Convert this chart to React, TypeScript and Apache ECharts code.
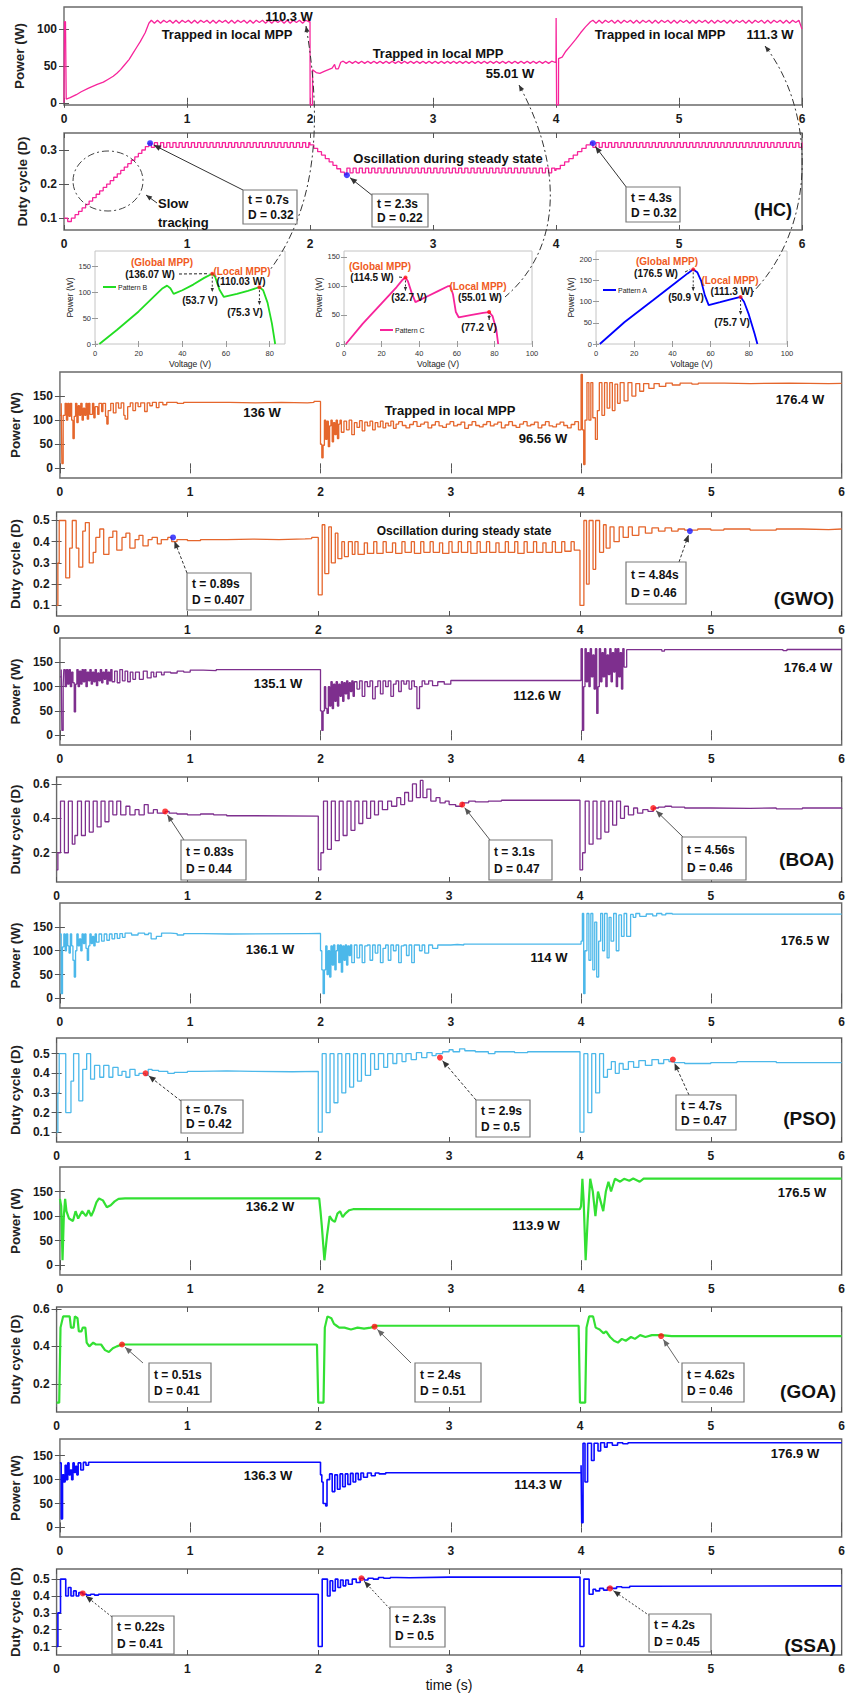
import { useEffect, useRef } from "react";
import * as echarts from "echarts";

type Pt = [number, number];
type Seg = { t0: number; t1: number; v: number[] };
type Part = Pt[] | Seg;

// ---------------- tick labels ----------------
const timeTicks = [0, 1, 2, 3, 4, 5, 6];
const hcPowerTicks = [0, 50, 100];
const powerTicks = [0, 50, 100, 150];
const hcDutyTicks = [0.1, 0.2, 0.3];
const dutyTicks5 = [0.1, 0.2, 0.3, 0.4, 0.5];
const dutyTicks3 = [0.2, 0.4, 0.6];
const voltTicksB = [0, 20, 40, 60, 80];
const voltTicks = [0, 20, 40, 60, 80, 100];
const pvTicks = [0, 50, 100, 150];
const pvTicksA = [0, 50, 100, 150, 200];

// ---------------- HC ----------------
const hcPowerRamp: Pt[] = [[0, 0], [0.004, 110], [0.012, 110], [0.018, 5], [0.05, 7], [0.1, 11], [0.14, 15], [0.2, 20], [0.27, 25], [0.32, 28], [0.36, 32], [0.4, 36], [0.43, 40], [0.46, 45], [0.49, 51], [0.53, 59], [0.56, 67], [0.59, 75], [0.62, 83], [0.66, 95], [0.69, 108]];
const hcPowerSteady1: Seg = { t0: 0.71, t1: 1.99, v: [112, 108, 112, 108, 112, 109, 112, 108, 112, 108, 112, 109, 112, 108, 112, 108, 112, 109, 112, 108, 112, 108, 112, 109, 112, 108, 112, 108, 112, 109, 112, 108, 112, 108, 112, 109, 112, 108, 112, 108, 112, 109, 112, 108, 112, 108, 112, 109, 112, 108, 112, 110] };
const hcPowerDrop: Pt[] = [[2.0, 110.3], [2.001, -3], [2.02, -3], [2.021, 45], [2.05, 41], [2.08, 40], [2.12, 43], [2.15, 45], [2.18, 47], [2.2, 52], [2.21, 46], [2.23, 46], [2.25, 55]];
const hcPowerSteady2: Seg = { t0: 2.27, t1: 3.99, v: [56.5, 53.5, 56.5, 53.5, 56.5, 53.5, 56.5, 53.5, 56.5, 53.5, 56.5, 53.5, 56.5, 53.5, 56.5, 53.5, 56.5, 53.5, 56.5, 53.5, 56.5, 53.5, 56.5, 53.5, 56.5, 53.5, 56.5, 53.5, 56.5, 53.5, 56.5, 53.5, 56.5, 53.5, 56.5, 53.5, 56.5, 53.5, 56.5, 53.5, 56.5, 53.5, 56.5, 53.5, 56.5, 53.5, 56.5, 53.5, 56.5, 53.5, 56.5, 53.5, 56.5, 53.5, 56.5, 53.5, 56.5, 53.5, 56.5, 53.5, 56.5, 53.5, 56.5, 53.5, 56.5, 53.5, 56.5, 53.5, 56.5, 55] };
const hcPowerRise: Pt[] = [[4.0, 55], [4.001, 115], [4.005, -3], [4.02, -3], [4.021, 60], [4.05, 62], [4.08, 70], [4.12, 78], [4.16, 86], [4.2, 95], [4.24, 103], [4.28, 110]];
const hcPowerSteady3: Seg = { t0: 4.3, t1: 6.0, v: [112, 108, 112, 108, 112, 109, 112, 108, 112, 108, 112, 109, 112, 108, 112, 108, 112, 109, 112, 108, 112, 108, 112, 109, 112, 108, 112, 108, 112, 109, 112, 108, 112, 108, 112, 109, 112, 108, 112, 108, 112, 109, 112, 108, 112, 108, 112, 109, 112, 108, 112, 108, 112, 109, 112, 108, 112, 108, 112, 109, 112, 108, 112, 108, 112, 109, 112, 100] };

const hcDutyStart: Pt[] = [[0, 0.1], [0.03, 0.09], [0.06, 0.1]];
const hcDutyRamp1: Seg = { t0: 0.09, t1: 0.69, v: [0.11, 0.12, 0.13, 0.14, 0.15, 0.16, 0.17, 0.18, 0.19, 0.2, 0.21, 0.22, 0.23, 0.24, 0.25, 0.26, 0.27, 0.28, 0.29, 0.3, 0.31, 0.32] };
const hcDutySteady1: Seg = { t0: 0.71, t1: 1.99, v: [0.308, 0.322, 0.308, 0.322, 0.308, 0.322, 0.308, 0.322, 0.308, 0.322, 0.308, 0.322, 0.308, 0.322, 0.308, 0.322, 0.308, 0.322, 0.308, 0.322, 0.308, 0.322, 0.308, 0.322, 0.308, 0.322, 0.308, 0.322, 0.308, 0.322, 0.308, 0.322, 0.308, 0.322, 0.308, 0.322, 0.308, 0.322, 0.308, 0.322, 0.308, 0.322, 0.308, 0.322, 0.308, 0.322, 0.308, 0.322, 0.308, 0.322, 0.308, 0.322] };
const hcDutyRamp2: Seg = { t0: 2.0, t1: 2.28, v: [0.315, 0.305, 0.295, 0.285, 0.275, 0.265, 0.255, 0.245, 0.235, 0.228] };
const hcDutySteady2: Seg = { t0: 2.3, t1: 3.99, v: [0.247, 0.233, 0.247, 0.233, 0.247, 0.233, 0.247, 0.233, 0.247, 0.233, 0.247, 0.233, 0.247, 0.233, 0.247, 0.233, 0.247, 0.233, 0.247, 0.233, 0.247, 0.233, 0.247, 0.233, 0.247, 0.233, 0.247, 0.233, 0.247, 0.233, 0.247, 0.233, 0.247, 0.233, 0.247, 0.233, 0.247, 0.233, 0.247, 0.233, 0.247, 0.233, 0.247, 0.233, 0.247, 0.233, 0.247, 0.233, 0.247, 0.233, 0.247, 0.233, 0.247, 0.233, 0.247, 0.233, 0.247, 0.233, 0.247, 0.233, 0.247, 0.233, 0.247, 0.233, 0.247, 0.233, 0.247, 0.24] };
const hcDutyRamp3: Seg = { t0: 4.0, t1: 4.28, v: [0.245, 0.255, 0.265, 0.275, 0.285, 0.295, 0.305, 0.315, 0.322] };
const hcDutySteady3: Seg = { t0: 4.3, t1: 6.0, v: [0.308, 0.322, 0.308, 0.322, 0.308, 0.322, 0.308, 0.322, 0.308, 0.322, 0.308, 0.322, 0.308, 0.322, 0.308, 0.322, 0.308, 0.322, 0.308, 0.322, 0.308, 0.322, 0.308, 0.322, 0.308, 0.322, 0.308, 0.322, 0.308, 0.322, 0.308, 0.322, 0.308, 0.322, 0.308, 0.322, 0.308, 0.322, 0.308, 0.322, 0.308, 0.322, 0.308, 0.322, 0.308, 0.322, 0.308, 0.322, 0.308, 0.322, 0.308, 0.322, 0.308, 0.322, 0.308, 0.322, 0.308, 0.322, 0.308, 0.322, 0.308, 0.322, 0.308, 0.322, 0.308, 0.322, 0.308, 0.322] };
const hcDots: Pt[] = [[0.7, 0.32], [2.3, 0.226], [4.3, 0.32]];

// ---------------- GWO ----------------
const gwoPower1: Pt[] = [[0, 110], [0.01, 135], [0.015, 10], [0.025, 110], [0.04, 135], [0.05, 100], [0.06, 135], [0.07, 108], [0.08, 135], [0.09, 100], [0.1, 62], [0.11, 108], [0.12, 135], [0.13, 95], [0.14, 130], [0.15, 110], [0.16, 135], [0.17, 100], [0.18, 125], [0.19, 110], [0.2, 135], [0.21, 102], [0.22, 135], [0.23, 112], [0.25, 135], [0.26, 105], [0.27, 128], [0.29, 112], [0.3, 135], [0.32, 118], [0.33, 135], [0.35, 108], [0.36, 92], [0.37, 120], [0.39, 135], [0.41, 115], [0.43, 136], [0.45, 125], [0.47, 136], [0.49, 110], [0.5, 102], [0.52, 128], [0.54, 136], [0.56, 120], [0.58, 136], [0.6, 128], [0.62, 136], [0.65, 118], [0.67, 136], [0.69, 130], [0.71, 137], [0.74, 126], [0.76, 137], [0.79, 132], [0.82, 137], [0.9, 135], [0.95, 137], [1.1, 137], [1.3, 136], [1.5, 137], [1.7, 136], [1.9, 137], [1.95, 139]];
const gwoPower2: Pt[] = [[2.0, 50], [2.01, 22], [2.02, 48], [2.03, 100], [2.04, 60], [2.05, 98], [2.06, 45], [2.07, 88], [2.08, 100], [2.09, 55], [2.1, 95], [2.11, 70], [2.12, 100], [2.13, 62], [2.14, 92], [2.15, 100], [2.16, 75], [2.18, 98], [2.2, 80], [2.22, 100], [2.24, 70], [2.26, 95], [2.28, 85], [2.3, 99], [2.32, 78], [2.34, 96], [2.36, 88], [2.38, 98], [2.4, 80], [2.42, 95], [2.44, 86], [2.46, 98], [2.48, 84], [2.5, 94], [2.52, 88], [2.54, 98], [2.56, 83], [2.58, 92]];
const gwoPower3: Seg = { t0: 2.6, t1: 3.98, v: [97, 89, 84, 91, 97, 87, 92, 96, 84, 90, 97, 88, 85, 92, 97, 88, 91, 96, 83, 90, 97, 89, 86, 91, 97, 88, 92, 96, 84, 90, 97, 89, 85, 92, 97, 88, 91, 96, 84, 90, 97, 88, 86, 92, 96, 89, 84, 91, 97, 80] };
const gwoPower4: Pt[] = [[4.0, 195], [4.01, 80], [4.02, 8], [4.03, 100], [4.045, 178], [4.06, 100], [4.075, 178], [4.09, 105], [4.11, 60], [4.125, 120], [4.14, 178], [4.16, 110], [4.18, 178], [4.2, 125], [4.22, 178], [4.24, 120], [4.26, 175], [4.28, 135], [4.3, 178], [4.33, 140], [4.36, 178], [4.39, 150], [4.42, 176], [4.45, 160], [4.48, 176], [4.52, 166], [4.56, 176], [4.6, 170], [4.65, 177], [4.7, 173], [4.76, 177], [4.85, 175], [4.9, 177], [5.1, 176], [5.3, 177], [5.6, 176], [5.9, 176.4], [6, 176.4]];

const gwoDuty1: Pt[] = [[0, 0.1], [0.01, 0.3], [0.02, 0.5], [0.07, 0.23], [0.1, 0.37], [0.12, 0.5], [0.15, 0.37], [0.17, 0.28], [0.2, 0.45], [0.22, 0.49], [0.25, 0.3], [0.28, 0.35], [0.3, 0.42], [0.33, 0.46], [0.36, 0.34], [0.4, 0.42], [0.43, 0.45], [0.46, 0.36], [0.5, 0.42], [0.53, 0.44], [0.56, 0.37], [0.6, 0.41], [0.63, 0.43], [0.66, 0.38], [0.7, 0.41], [0.73, 0.42], [0.77, 0.39], [0.8, 0.41], [0.85, 0.42], [0.88, 0.4], [0.92, 0.41], [1.0, 0.405], [1.1, 0.41], [1.3, 0.412], [1.5, 0.41], [1.7, 0.413], [1.9, 0.415], [1.95, 0.42]];
const gwoDuty2: Pt[] = [[2.0, 0.15], [2.03, 0.48], [2.05, 0.25], [2.08, 0.47], [2.1, 0.3], [2.13, 0.44], [2.15, 0.32], [2.18, 0.4], [2.2, 0.33], [2.23, 0.4], [2.26, 0.34]];
const gwoDuty3: Seg = { t0: 2.28, t1: 3.98, v: [0.4, 0.34, 0.34, 0.395, 0.345, 0.345, 0.4, 0.345, 0.345, 0.4, 0.35, 0.35, 0.395, 0.345, 0.345, 0.4, 0.35, 0.35, 0.4, 0.345, 0.345, 0.4, 0.35, 0.35, 0.4, 0.35, 0.35, 0.395, 0.345, 0.345, 0.4, 0.35, 0.35, 0.4, 0.35, 0.35, 0.4, 0.345, 0.345, 0.4, 0.35, 0.35, 0.4, 0.35, 0.35, 0.395, 0.35, 0.35, 0.4, 0.35, 0.35, 0.4, 0.345, 0.345, 0.4, 0.35, 0.35, 0.4, 0.35, 0.35, 0.395, 0.35, 0.35, 0.4, 0.35, 0.35, 0.4, 0.355, 0.355, 0.4, 0.36, 0.36] };
const gwoDuty4: Pt[] = [[4.0, 0.1], [4.03, 0.5], [4.05, 0.2], [4.07, 0.5], [4.1, 0.27], [4.12, 0.5], [4.15, 0.35], [4.18, 0.48], [4.2, 0.37], [4.23, 0.47], [4.26, 0.4], [4.3, 0.47], [4.33, 0.42], [4.37, 0.47], [4.4, 0.43], [4.45, 0.47], [4.5, 0.44], [4.55, 0.465], [4.6, 0.45], [4.65, 0.465], [4.7, 0.45], [4.75, 0.46], [4.8, 0.455], [4.9, 0.46], [5.0, 0.455], [5.1, 0.46], [5.3, 0.455], [5.5, 0.46], [5.7, 0.457], [5.9, 0.46], [6, 0.46]];
const gwoDots: Pt[] = [[0.89, 0.42], [4.84, 0.45]];

// ---------------- BOA ----------------
const boaPower: Pt[] = [[0, 120], [0.01, 135], [0.015, 10], [0.025, 105], [0.03, 135], [0.04, 100], [0.05, 135], [0.06, 105], [0.07, 135], [0.08, 100], [0.09, 130], [0.1, 108], [0.11, 48], [0.12, 105], [0.13, 135], [0.14, 100], [0.15, 132], [0.16, 105], [0.17, 135], [0.18, 110], [0.19, 135], [0.2, 100], [0.21, 130], [0.22, 112], [0.23, 135], [0.24, 105], [0.25, 130], [0.26, 110], [0.27, 135], [0.28, 102], [0.29, 128], [0.3, 112], [0.31, 135], [0.32, 108], [0.33, 130], [0.34, 115], [0.35, 135], [0.36, 105], [0.37, 130], [0.38, 112], [0.39, 135], [0.4, 110], [0.42, 132], [0.44, 108], [0.46, 135], [0.48, 112], [0.5, 132], [0.52, 110], [0.54, 130], [0.56, 115], [0.58, 130], [0.61, 115], [0.64, 132], [0.67, 118], [0.7, 130], [0.72, 120], [0.74, 130], [0.78, 124], [0.8, 130], [0.85, 128], [0.9, 132], [0.95, 130], [1.0, 134], [1.1, 133], [1.2, 135], [1.8, 135.1],
  [2.0, 50], [2.01, 10], [2.02, 50], [2.03, 100], [2.04, 55], [2.05, 45], [2.06, 100], [2.07, 60], [2.08, 110], [2.09, 55], [2.1, 105], [2.11, 70], [2.12, 110], [2.13, 60], [2.14, 105], [2.15, 80], [2.16, 110], [2.17, 70], [2.18, 108], [2.19, 85], [2.2, 112], [2.21, 75], [2.22, 108], [2.23, 90], [2.24, 112], [2.25, 80], [2.26, 110], [2.28, 95], [2.3, 112], [2.32, 80], [2.34, 110], [2.36, 100], [2.38, 112], [2.4, 75], [2.42, 100], [2.44, 112], [2.46, 85], [2.48, 112], [2.5, 100], [2.52, 112], [2.54, 80], [2.56, 105], [2.58, 112], [2.6, 90], [2.62, 112], [2.64, 105], [2.66, 112], [2.68, 95], [2.7, 112], [2.72, 100], [2.74, 55], [2.76, 100], [2.78, 112], [2.8, 105], [2.83, 112], [2.86, 102], [2.9, 110], [2.95, 105], [3.0, 112.6], [3.99, 112.6],
  [4.0, 178], [4.01, 10], [4.02, 100], [4.03, 178], [4.04, 110], [4.05, 170], [4.06, 100], [4.07, 178], [4.08, 120], [4.09, 165], [4.1, 95], [4.11, 178], [4.12, 45], [4.13, 100], [4.14, 178], [4.15, 110], [4.16, 170], [4.17, 120], [4.18, 178], [4.19, 100], [4.2, 165], [4.21, 125], [4.22, 178], [4.23, 110], [4.24, 170], [4.25, 130], [4.26, 178], [4.27, 100], [4.28, 178], [4.29, 120], [4.3, 170], [4.31, 95], [4.32, 178], [4.33, 140], [4.35, 176], [4.6, 176], [4.62, 173], [4.64, 176], [5.5, 176], [5.55, 174], [5.58, 176.4], [6, 176.4]];
const boaDuty: Pt[] = [[0, 0.1], [0.01, 0.2], [0.03, 0.5], [0.06, 0.2], [0.09, 0.5], [0.12, 0.25], [0.14, 0.3], [0.16, 0.5], [0.19, 0.3], [0.22, 0.5], [0.25, 0.32], [0.28, 0.5], [0.31, 0.35], [0.34, 0.5], [0.37, 0.38], [0.4, 0.5], [0.43, 0.42], [0.46, 0.5], [0.49, 0.42], [0.53, 0.47], [0.56, 0.42], [0.6, 0.45], [0.63, 0.42], [0.67, 0.48], [0.7, 0.43], [0.74, 0.45], [0.77, 0.43], [0.83, 0.44], [0.86, 0.43], [0.92, 0.425], [1.0, 0.42], [1.1, 0.425], [1.2, 0.42], [1.3, 0.415], [1.5, 0.413],
  [2.0, 0.1], [2.02, 0.2], [2.04, 0.5], [2.07, 0.22], [2.1, 0.5], [2.13, 0.27], [2.16, 0.5], [2.19, 0.3], [2.22, 0.5], [2.25, 0.33], [2.28, 0.5], [2.31, 0.37], [2.34, 0.5], [2.37, 0.4], [2.4, 0.5], [2.43, 0.42], [2.46, 0.5], [2.49, 0.45], [2.53, 0.5], [2.56, 0.47], [2.6, 0.52], [2.63, 0.48], [2.66, 0.55], [2.69, 0.5], [2.72, 0.6], [2.75, 0.52], [2.78, 0.62], [2.8, 0.52], [2.83, 0.57], [2.86, 0.5], [2.9, 0.52], [2.93, 0.49], [2.97, 0.5], [3.0, 0.48], [3.05, 0.47], [3.1, 0.49], [3.15, 0.5], [3.2, 0.495], [3.3, 0.5], [3.4, 0.505],
  [4.0, 0.1], [4.02, 0.2], [4.04, 0.5], [4.07, 0.25], [4.1, 0.5], [4.13, 0.28], [4.16, 0.5], [4.19, 0.32], [4.22, 0.5], [4.25, 0.36], [4.28, 0.5], [4.31, 0.4], [4.34, 0.47], [4.37, 0.42], [4.41, 0.46], [4.44, 0.43], [4.48, 0.45], [4.52, 0.44], [4.56, 0.46], [4.6, 0.465], [4.65, 0.47], [4.7, 0.465], [4.8, 0.46], [5.0, 0.458], [5.3, 0.46], [5.5, 0.455], [5.7, 0.46], [6, 0.455]];
const boaDots: Pt[] = [[0.83, 0.44], [3.1, 0.48], [4.56, 0.46]];

// ---------------- PSO ----------------
const psoPower: Pt[] = [[0, 135], [0.01, 10], [0.02, 108], [0.03, 135], [0.04, 100], [0.05, 135], [0.06, 110], [0.07, 95], [0.08, 135], [0.09, 110], [0.1, 80], [0.11, 45], [0.12, 100], [0.13, 135], [0.14, 110], [0.15, 125], [0.16, 100], [0.17, 135], [0.18, 115], [0.19, 135], [0.2, 105], [0.21, 80], [0.22, 110], [0.23, 135], [0.24, 115], [0.25, 130], [0.26, 110], [0.27, 135], [0.28, 118], [0.3, 135], [0.32, 120], [0.34, 135], [0.36, 122], [0.38, 135], [0.4, 125], [0.42, 136], [0.44, 126], [0.46, 136], [0.48, 128], [0.5, 137], [0.55, 133], [0.6, 137], [0.65, 134], [0.68, 137], [0.7, 125], [0.74, 130], [0.78, 137], [0.85, 136], [0.9, 133], [0.95, 136], [1.1, 135], [1.3, 136], [1.9, 136.1],
  [2.0, 100], [2.01, 60], [2.02, 10], [2.03, 60], [2.04, 110], [2.05, 50], [2.06, 100], [2.07, 45], [2.08, 110], [2.09, 70], [2.1, 112], [2.11, 60], [2.12, 100], [2.13, 112], [2.14, 75], [2.15, 112], [2.16, 55], [2.17, 110], [2.18, 80], [2.19, 112], [2.2, 70], [2.21, 110], [2.22, 90], [2.23, 112], [2.24, 75], [2.26, 112], [2.28, 85], [2.3, 112], [2.32, 75], [2.34, 110], [2.36, 112], [2.38, 80], [2.4, 112], [2.42, 95], [2.44, 112], [2.46, 75], [2.48, 105], [2.5, 112], [2.52, 80], [2.54, 112], [2.56, 100], [2.58, 112], [2.6, 75], [2.62, 110], [2.64, 112], [2.66, 90], [2.68, 112], [2.7, 75], [2.72, 112], [2.76, 100], [2.78, 112], [2.8, 95], [2.83, 112], [2.86, 105], [2.9, 112], [3.0, 113], [3.05, 112], [3.1, 114], [3.9, 114],
  [4.0, 120], [4.01, 178], [4.02, 10], [4.03, 100], [4.045, 178], [4.06, 80], [4.075, 178], [4.09, 60], [4.105, 160], [4.12, 45], [4.135, 120], [4.15, 178], [4.165, 100], [4.18, 178], [4.2, 85], [4.215, 170], [4.23, 120], [4.25, 178], [4.27, 100], [4.29, 175], [4.31, 130], [4.33, 178], [4.35, 130], [4.38, 176], [4.4, 170], [4.42, 178], [4.45, 172], [4.5, 177], [4.55, 173], [4.58, 178], [4.62, 175], [4.65, 178], [4.7, 176.5], [6, 176.5]];
const psoDuty: Pt[] = [[0, 0.1], [0.01, 0.3], [0.02, 0.5], [0.07, 0.2], [0.11, 0.36], [0.13, 0.5], [0.17, 0.26], [0.2, 0.42], [0.23, 0.5], [0.26, 0.37], [0.29, 0.44], [0.33, 0.38], [0.36, 0.44], [0.4, 0.38], [0.43, 0.43], [0.47, 0.39], [0.5, 0.41], [0.53, 0.38], [0.56, 0.42], [0.6, 0.39], [0.63, 0.4], [0.68, 0.39], [0.7, 0.42], [0.73, 0.415], [0.78, 0.41], [0.85, 0.4], [0.9, 0.405], [1.0, 0.41], [1.1, 0.412], [1.3, 0.41], [1.5, 0.408], [1.8, 0.41],
  [2.0, 0.1], [2.03, 0.5], [2.06, 0.2], [2.09, 0.5], [2.12, 0.25], [2.15, 0.5], [2.18, 0.3], [2.21, 0.5], [2.24, 0.33], [2.27, 0.5], [2.3, 0.36], [2.33, 0.5], [2.36, 0.39], [2.4, 0.5], [2.43, 0.42], [2.46, 0.5], [2.5, 0.43], [2.53, 0.5], [2.57, 0.45], [2.6, 0.5], [2.64, 0.46], [2.67, 0.5], [2.71, 0.47], [2.75, 0.505], [2.79, 0.48], [2.83, 0.505], [2.87, 0.49], [2.9, 0.5], [2.95, 0.51], [3.0, 0.52], [3.03, 0.51], [3.08, 0.525], [3.12, 0.515], [3.2, 0.51], [3.3, 0.5], [3.35, 0.51], [3.5, 0.505], [3.6, 0.51],
  [4.0, 0.1], [4.03, 0.5], [4.06, 0.2], [4.09, 0.5], [4.12, 0.3], [4.15, 0.5], [4.18, 0.38], [4.21, 0.42], [4.24, 0.46], [4.27, 0.4], [4.3, 0.45], [4.33, 0.42], [4.37, 0.46], [4.41, 0.43], [4.45, 0.465], [4.5, 0.44], [4.55, 0.47], [4.6, 0.45], [4.64, 0.47], [4.68, 0.46], [4.72, 0.455], [4.8, 0.45], [5.0, 0.455], [5.2, 0.46], [5.5, 0.455], [6, 0.455]];
const psoDots: Pt[] = [[0.68, 0.4], [2.93, 0.48], [4.71, 0.47]];

// ---------------- GOA ----------------
const goaPower: Pt[] = [[0, 135], [0.01, 120], [0.02, 10], [0.03, 100], [0.04, 135], [0.05, 110], [0.07, 95], [0.1, 90], [0.12, 110], [0.14, 95], [0.17, 110], [0.2, 100], [0.22, 112], [0.24, 100], [0.26, 112], [0.28, 128], [0.3, 136], [0.33, 132], [0.36, 118], [0.39, 122], [0.42, 130], [0.45, 135], [0.5, 136], [1.0, 136.2], [1.99, 136.2],
  [2.0, 110], [2.01, 80], [2.03, 10], [2.05, 60], [2.07, 100], [2.09, 92], [2.11, 88], [2.13, 105], [2.15, 110], [2.17, 98], [2.19, 105], [2.22, 112], [2.25, 114], [3.0, 113.9], [3.99, 113.9],
  [4.0, 120], [4.01, 176], [4.02, 130], [4.035, 10], [4.05, 90], [4.07, 176], [4.09, 150], [4.11, 100], [4.13, 150], [4.15, 130], [4.17, 110], [4.19, 150], [4.21, 170], [4.23, 150], [4.26, 176], [4.3, 170], [4.33, 176], [4.37, 172], [4.4, 176.5], [4.45, 170], [4.48, 176.5], [6, 176.5]];
const goaDuty: Pt[] = [[0, 0.1], [0.02, 0.1], [0.03, 0.5], [0.05, 0.56], [0.1, 0.56], [0.11, 0.5], [0.13, 0.5], [0.14, 0.56], [0.16, 0.55], [0.17, 0.48], [0.19, 0.48], [0.2, 0.5], [0.22, 0.5], [0.23, 0.42], [0.25, 0.4], [0.28, 0.42], [0.3, 0.41], [0.34, 0.41], [0.37, 0.38], [0.4, 0.37], [0.43, 0.39], [0.46, 0.4], [0.5, 0.41], [0.55, 0.41], [1.0, 0.41], [1.99, 0.41],
  [2.0, 0.1], [2.04, 0.1], [2.05, 0.5], [2.07, 0.56], [2.1, 0.55], [2.12, 0.52], [2.14, 0.51], [2.16, 0.5], [2.2, 0.5], [2.25, 0.49], [2.3, 0.5], [2.35, 0.495], [2.4, 0.5], [2.45, 0.51], [3.0, 0.51], [3.99, 0.51],
  [4.0, 0.1], [4.04, 0.1], [4.05, 0.5], [4.07, 0.56], [4.1, 0.56], [4.12, 0.5], [4.15, 0.49], [4.18, 0.47], [4.2, 0.48], [4.23, 0.45], [4.26, 0.43], [4.29, 0.42], [4.32, 0.44], [4.35, 0.43], [4.39, 0.45], [4.42, 0.44], [4.46, 0.46], [4.5, 0.45], [4.55, 0.46], [4.62, 0.46], [4.7, 0.455], [6, 0.455]];
const goaDots: Pt[] = [[0.5, 0.41], [2.43, 0.505], [4.62, 0.455]];

// ---------------- SSA ----------------
const ssaPower: Pt[] = [[0, 135], [0.01, 18], [0.02, 110], [0.03, 95], [0.04, 130], [0.05, 100], [0.06, 135], [0.07, 110], [0.08, 120], [0.09, 100], [0.1, 135], [0.11, 115], [0.12, 128], [0.13, 110], [0.14, 135], [0.16, 120], [0.18, 136], [0.2, 130], [0.22, 136.3], [1.99, 136.3],
  [2.0, 110], [2.01, 95], [2.02, 50], [2.04, 45], [2.05, 100], [2.07, 112], [2.09, 75], [2.11, 110], [2.13, 80], [2.15, 112], [2.17, 85], [2.19, 112], [2.21, 90], [2.23, 113], [2.25, 95], [2.27, 113], [2.29, 100], [2.31, 114], [2.33, 105], [2.36, 114], [2.39, 108], [2.42, 114], [2.45, 112], [2.5, 114.3], [3.99, 114.3],
  [4.0, 130], [4.005, 10], [4.015, 176], [4.03, 95], [4.05, 176], [4.08, 140], [4.1, 176], [4.13, 160], [4.15, 177], [4.18, 168], [4.2, 177], [4.24, 172], [4.28, 177], [4.32, 175], [4.36, 177], [6, 176.9]];
const ssaDuty: Pt[] = [[0, 0.1], [0.01, 0.3], [0.03, 0.5], [0.07, 0.4], [0.09, 0.45], [0.11, 0.4], [0.13, 0.43], [0.15, 0.4], [0.17, 0.42], [0.2, 0.41], [0.23, 0.405], [0.26, 0.41], [0.29, 0.405], [0.32, 0.41],
  [2.0, 0.1], [2.03, 0.5], [2.07, 0.4], [2.09, 0.49], [2.11, 0.43], [2.13, 0.5], [2.15, 0.45], [2.17, 0.495], [2.19, 0.46], [2.21, 0.495], [2.23, 0.47], [2.26, 0.5], [2.29, 0.48], [2.32, 0.505], [2.35, 0.495], [2.38, 0.505], [2.42, 0.5], [2.46, 0.51], [2.5, 0.505], [2.55, 0.51], [2.6, 0.508], [2.7, 0.512], [3.0, 0.512],
  [4.0, 0.1], [4.03, 0.5], [4.07, 0.41], [4.1, 0.44], [4.12, 0.43], [4.15, 0.445], [4.18, 0.435], [4.21, 0.45], [4.24, 0.445], [4.28, 0.455], [4.32, 0.45], [4.38, 0.458], [4.5, 0.46], [6, 0.46]];
const ssaDots: Pt[] = [[0.2, 0.415], [2.33, 0.505], [4.23, 0.445]];

// ---------------- PV curves (insets) ----------------
const patternB: Pt[] = [[2, 0], [10, 27], [20, 63], [28, 96], [31, 108], [33, 113], [34.5, 108], [36, 97], [40, 104], [45, 115], [50, 128], [53.7, 136.07], [55, 130], [57, 105], [59, 91], [65, 97], [70, 103], [75.3, 110.03], [77, 104], [79, 80], [81, 40], [82.5, 0]];
const patternC: Pt[] = [[1, 0], [10, 35], [20, 70], [28, 98], [31, 110], [32.7, 114.5], [34, 108], [36, 88], [38, 72], [45, 83], [50, 91], [55, 99], [56.5, 100], [58, 85], [59.5, 55], [61, 46], [68, 50], [74, 53.5], [77.2, 55.01], [79, 48], [81, 25], [82, 0]];
const patternA: Pt[] = [[2, 0], [15, 52], [30, 104], [42, 146], [48, 167], [50.9, 176.5], [53, 170], [55, 150], [57, 115], [59, 92], [65, 99], [70, 105], [75.7, 111.3], [77.5, 100], [80, 70], [83, 25], [84.5, 0]];
const mppB: Pt[] = [[53.7, 136.07], [75.3, 110.03]];
const mppC: Pt[] = [[32.7, 114.5], [77.2, 55.01]];
const mppA: Pt[] = [[50.9, 176.5], [75.7, 111.3]];

// ---------------- texts ----------------
const boxTexts = {
  hc: [["t = 0.7s", "D = 0.32"], ["t = 2.3s", "D = 0.22"], ["t = 4.3s", "D = 0.32"]],
  gwo: [["t = 0.89s", "D = 0.407"], ["t = 4.84s", "D = 0.46"]],
  boa: [["t = 0.83s", "D = 0.44"], ["t = 3.1s", "D = 0.47"], ["t = 4.56s", "D = 0.46"]],
  pso: [["t = 0.7s", "D = 0.42"], ["t = 2.9s", "D = 0.5"], ["t = 4.7s", "D = 0.47"]],
  goa: [["t = 0.51s", "D = 0.41"], ["t = 2.4s", "D = 0.51"], ["t = 4.62s", "D = 0.46"]],
  ssa: [["t = 0.22s", "D = 0.41"], ["t = 2.3s", "D = 0.5"], ["t = 4.2s", "D = 0.45"]],
};

function expand(parts: Part[]): Pt[] {
  const out: Pt[] = [];
  for (const p of parts) {
    if (Array.isArray(p)) {
      for (const q of p) out.push(q);
    } else {
      const n = p.v.length;
      const dt = n > 1 ? (p.t1 - p.t0) / (n - 1) : 0;
      p.v.forEach((v, i) => out.push([+(p.t0 + i * dt).toFixed(4), v]));
    }
  }
  return out;
}

const F = '"Liberation Sans", Arial, Helvetica, sans-serif';
const COL = { hc: "#f7249b", gwo: "#e5662c", boa: "#7e2f8e", pso: "#4cb8ea", goa: "#33e033", ssa: "#0a0aff", green: "#22dd22" };

export default function App() {
  const ref = useRef<HTMLDivElement | null>(null);
  useEffect(() => {
    if (!ref.current) return;
    const chart = echarts.init(ref.current, null, { renderer: "svg" });

    const L = 50, R = 844;
    const panels: any[] = [
      { key: "hcP", l: 64, r: 802, t: 7, b: 105, y: [-3, 130], yt: hcPowerTicks, name: "Power (W)", gap: 24, data: expand([hcPowerRamp, hcPowerSteady1, hcPowerDrop, hcPowerSteady2, hcPowerRise, hcPowerSteady3]), color: COL.hc, step: false, lw: 1.3 },
      { key: "hcD", l: 64, r: 802, t: 133, b: 230, y: [0.065, 0.35], yt: hcDutyTicks, name: "Duty cycle (D)", gap: 22, data: expand([hcDutyStart, hcDutyRamp1, hcDutySteady1, hcDutyRamp2, hcDutySteady2, hcDutyRamp3, hcDutySteady3]), color: COL.hc, step: "end", lw: 1.3, dots: hcDots, dotColor: "#1a1aff" },
      { key: "gwoP", l: L, r: R, t: 372, b: 478, y: [-20, 200], yt: powerTicks, name: "Power (W)", gap: 26, data: expand([gwoPower1, gwoPower2, gwoPower3, gwoPower4]), color: COL.gwo, step: "end", lw: 1.3 },
      { key: "gwoD", l: L, r: R, t: 512, b: 616, y: [0.05, 0.54], yt: dutyTicks5, name: "Duty cycle (D)", gap: 26, data: expand([gwoDuty1, gwoDuty2, gwoDuty3, gwoDuty4]), color: COL.gwo, step: "end", lw: 1.3, dots: gwoDots, dotColor: "#1a1aff" },
      { key: "boaP", l: L, r: R, t: 638, b: 745, y: [-20, 200], yt: powerTicks, name: "Power (W)", gap: 26, data: boaPower, color: COL.boa, step: "end", lw: 1.3 },
      { key: "boaD", l: L, r: R, t: 777, b: 882, y: [0.03, 0.64], yt: dutyTicks3, name: "Duty cycle (D)", gap: 26, data: boaDuty, color: COL.boa, step: "end", lw: 1.3, dots: boaDots, dotColor: "#ff1010" },
      { key: "psoP", l: L, r: R, t: 903, b: 1008, y: [-20, 200], yt: powerTicks, name: "Power (W)", gap: 26, data: psoPower, color: COL.pso, step: "end", lw: 1.3 },
      { key: "psoD", l: L, r: R, t: 1038, b: 1142, y: [0.05, 0.58], yt: dutyTicks5, name: "Duty cycle (D)", gap: 26, data: psoDuty, color: COL.pso, step: "end", lw: 1.3, dots: psoDots, dotColor: "#ff1010" },
      { key: "goaP", l: L, r: R, t: 1167, b: 1275, y: [-20, 200], yt: powerTicks, name: "Power (W)", gap: 26, data: goaPower, color: COL.goa, step: false, lw: 2.2 },
      { key: "goaD", l: L, r: R, t: 1307, b: 1412, y: [0.05, 0.61], yt: dutyTicks3, name: "Duty cycle (D)", gap: 26, data: goaDuty, color: COL.goa, step: false, lw: 2.2, dots: goaDots, dotColor: "#ff1010" },
      { key: "ssaP", l: L, r: R, t: 1439, b: 1537, y: [-20, 185], yt: powerTicks, name: "Power (W)", gap: 26, data: ssaPower, color: COL.ssa, step: "end", lw: 1.6 },
      { key: "ssaD", l: L, r: R, t: 1569, b: 1655, y: [0.05, 0.56], yt: dutyTicks5, name: "Duty cycle (D)", gap: 26, data: ssaDuty, color: COL.ssa, step: "end", lw: 1.6, dots: ssaDots, dotColor: "#ff1010" },
    ];
    const insets: any[] = [
      { l: 95, r: 285, t: 251, b: 344, x: [0, 87], y: [0, 180], xt: voltTicksB, yt: pvTicks, data: patternB, color: COL.green, mpp: mppB },
      { l: 344, r: 532, t: 251, b: 344, x: [0, 100], y: [0, 160], xt: voltTicks, yt: pvTicks, data: patternC, color: COL.hc, mpp: mppC },
      { l: 596, r: 787, t: 251, b: 344, x: [0, 100], y: [0, 220], xt: voltTicks, yt: pvTicksA, data: patternA, color: "#0000ff", mpp: mppA },
    ];

    const grid: any[] = [], xAxis: any[] = [], yAxis: any[] = [], series: any[] = [];
    const addGrid = (p: any, xr: number[], yr: number[], xt: number[], yt: number[], o: any) => {
      const gi = grid.length;
      grid.push({ left: p.l, top: p.t, width: p.r - p.l, height: p.b - p.t, show: true, borderColor: o.border, borderWidth: o.bw, backgroundColor: "#fff" });
      const tickLine = { color: o.tickColor, width: 1 };
      const lab = { fontFamily: F, fontSize: o.fs, fontWeight: o.fw, color: o.lc };
      const xi = xAxis.length, yi = yAxis.length;
      xAxis.push({ type: "value", gridIndex: gi, min: xr[0], max: xr[1], position: "bottom", axisLine: { show: false }, splitLine: { show: false },
        axisTick: { show: true, inside: true, length: o.tl, customValues: xt, lineStyle: tickLine },
        axisLabel: { show: true, customValues: xt, margin: o.xm, ...lab, formatter: (v: number) => String(v) },
        name: o.xname || "", nameLocation: "middle", nameGap: o.xnameGap || 0, nameTextStyle: { fontFamily: F, fontSize: o.nfs, color: "#222" } });
      xAxis.push({ type: "value", gridIndex: gi, min: xr[0], max: xr[1], position: "top", axisLine: { show: false }, splitLine: { show: false },
        axisTick: { show: true, inside: true, length: o.tl, customValues: xt, lineStyle: tickLine }, axisLabel: { show: false } });
      yAxis.push({ type: "value", gridIndex: gi, min: yr[0], max: yr[1], position: "left", axisLine: { show: false }, splitLine: { show: false },
        axisTick: { show: true, inside: true, length: o.tl, customValues: yt, lineStyle: tickLine },
        axisLabel: { show: true, customValues: yt, margin: o.ym, ...lab, formatter: (v: number) => String(v) },
        name: o.yname, nameLocation: "middle", nameGap: o.ynameGap, nameRotate: 90,
        nameTextStyle: { fontFamily: F, fontSize: o.nfs, fontWeight: o.nfw, color: "#222" } });
      yAxis.push({ type: "value", gridIndex: gi, min: yr[0], max: yr[1], position: "right", axisLine: { show: false }, splitLine: { show: false },
        axisTick: { show: true, inside: true, length: o.tl, customValues: yt, lineStyle: tickLine }, axisLabel: { show: false } });
      return { xi, yi };
    };

    const mainAx: any[] = [];
    panels.forEach((p) => {
      const ax = addGrid(p, [0, 6], p.y, timeTicks, p.yt, { border: "#6a6a6a", bw: 1.4, tickColor: "#555", fs: 12, fw: "bold", lc: "#1a1a1a", tl: 5, xm: 8, ym: 7, yname: p.name, ynameGap: p.gap, nfs: 13.5, nfw: "bold" });
      mainAx.push(ax);
      series.push({ type: "line", xAxisIndex: ax.xi, yAxisIndex: ax.yi, data: p.data, step: p.step, showSymbol: false, symbol: "none", silent: true, lineStyle: { color: p.color, width: p.lw }, z: 3 });
      if (p.dots) series.push({ type: "scatter", xAxisIndex: ax.xi, yAxisIndex: ax.yi, data: p.dots, symbolSize: 6, itemStyle: { color: p.dotColor }, silent: true, z: 6 });
    });
    const insetAx: any[] = [];
    insets.forEach((p) => {
      const ax = addGrid(p, p.x, p.y, p.xt, p.yt, { border: "#c4c4c4", bw: 1, tickColor: "#999", fs: 7.5, fw: "normal", lc: "#333", tl: 3, xm: 5, ym: 4, yname: "Power (W)", ynameGap: 13, nfs: 8.5, nfw: "normal", xname: "Voltage (V)", xnameGap: 15 });
      insetAx.push(ax);
      series.push({ type: "line", xAxisIndex: ax.xi, yAxisIndex: ax.yi, data: p.data, showSymbol: false, symbol: "none", silent: true, lineStyle: { color: p.color, width: 1.8 }, z: 3 });
      series.push({ type: "scatter", xAxisIndex: ax.xi, yAxisIndex: ax.yi, data: p.mpp, symbolSize: 4, itemStyle: { color: "#ff1010" }, silent: true, z: 6 });
    });

    chart.setOption({ animation: false, backgroundColor: "#ffffff", textStyle: { fontFamily: F }, grid, xAxis, yAxis, series });

    const px = (ax: any, pt: Pt) => chart.convertToPixel({ xAxisIndex: ax.xi, yAxisIndex: ax.yi }, pt) as unknown as number[];
    const g: any[] = [];
    const text = (x: number, y: number, s: string, o: any = {}) =>
      g.push({ type: "text", x, y, z: 120, silent: true, style: { text: s, fill: o.fill || "#111", font: o.font || `bold 13px ${F}`, textAlign: o.align || "center", textVerticalAlign: "middle" } });
    const seg = (x1: number, y1: number, x2: number, y2: number, o: any = {}) =>
      g.push({ type: "line", z: 110, silent: true, shape: { x1, y1, x2, y2 }, style: { stroke: o.color || "#222", lineWidth: o.lw || 1, lineDash: o.dash || null } });
    const head = (x1: number, y1: number, x2: number, y2: number, color: string, size = 7) => {
      const a = Math.atan2(y2 - y1, x2 - x1);
      const w = size * 0.42;
      const bx = x2 - size * Math.cos(a), by = y2 - size * Math.sin(a);
      g.push({ type: "polygon", z: 111, silent: true, shape: { points: [[x2, y2], [bx + w * Math.sin(a), by - w * Math.cos(a)], [bx - w * Math.sin(a), by + w * Math.cos(a)]] }, style: { fill: color } });
    };
    const arrow = (x1: number, y1: number, x2: number, y2: number, o: any = {}) => {
      seg(x1, y1, x2, y2, o);
      head(x1, y1, x2, y2, o.color || "#222", o.size || 7);
    };
    const box = (b: number[], lines: string[], from: number[], ax: any, dot: Pt, o: any = {}) => {
      const tip = px(ax, dot);
      const a = Math.atan2(tip[1] - from[1], tip[0] - from[0]);
      arrow(from[0], from[1], tip[0] - 4 * Math.cos(a), tip[1] - 4 * Math.sin(a), { color: o.color || "#333", dash: o.dash, lw: 1 });
      g.push({ type: "rect", z: 115, silent: true, shape: { x: b[0], y: b[1], width: b[2], height: b[3] }, style: { fill: "#fff", stroke: "#7a7a7a", lineWidth: 1.2 } });
      text(b[0] + 5, b[1] + b[3] * 0.3, lines[0], { align: "left", font: `bold 12px ${F}` });
      text(b[0] + 5, b[1] + b[3] * 0.73, lines[1], { align: "left", font: `bold 12px ${F}` });
    };
    const big = (x: number, y: number, s: string, size = 19) => text(x, y, s, { font: `bold ${size}px ${F}`, align: "right" });

    // ---- HC power annotations
    const [, aHD, , aGD, , aBD, , aPD, , aOD, , aSD] = mainAx;
    text(289, 16, "110.3 W");
    text(227, 34, "Trapped in local MPP");
    text(438, 53, "Trapped in local MPP");
    text(510, 73, "55.01 W");
    text(660, 34, "Trapped in local MPP");
    text(770, 34, "111.3 W");
    // dash-dot links to the PV insets
    const dd = [7, 3, 2, 3];
    const bez = (p0: number[], c1: number[], c2: number[], p3: number[]) => {
      g.push({ type: "bezierCurve", z: 105, silent: true, shape: { x1: p0[0], y1: p0[1], cpx1: c1[0], cpy1: c1[1], cpx2: c2[0], cpy2: c2[1], x2: p3[0], y2: p3[1] }, style: { stroke: "#333", lineWidth: 1, lineDash: dd, fill: "none" } });
      head(c1[0], c1[1], p0[0], p0[1], "#333", 6);
    };
    bez([306, 26], [322, 120], [318, 205], [270, 270]);
    bez([519, 85], [560, 160], [566, 245], [505, 297]);
    bez([765, 46], [815, 110], [818, 225], [753, 292]);

    // ---- HC duty annotations
    text(448, 158, "Oscillation during steady state");
    g.push({ type: "ellipse", z: 105, silent: true, shape: { cx: 108, cy: 181, rx: 35, ry: 30 }, style: { fill: "none", stroke: "#444", lineWidth: 1, lineDash: dd } });
    arrow(157, 203, 146, 195, { color: "#333", size: 6 });
    text(158, 203, "Slow", { align: "left" });
    text(158, 222, "tracking", { align: "left" });
    box([243, 190, 54, 34], boxTexts.hc[0], [243, 190], aHD, hcDots[0]);
    box([372, 194, 56, 33], boxTexts.hc[1], [373, 196], aHD, hcDots[1]);
    box([626, 187, 54, 35], boxTexts.hc[2], [627, 188], aHD, hcDots[2]);
    big(792, 210, "(HC)", 18);

    // ---- insets
    const lab = (x: number, y: number, s: string, orange = false) => text(x, y, s, { font: `bold 10px ${F}`, fill: orange ? "#f05a22" : "#111" });
    const legend = (x: number, y: number, s: string, color: string) => {
      g.push({ type: "line", z: 110, silent: true, shape: { x1: x, y1: y, x2: x + 13, y2: y }, style: { stroke: color, lineWidth: 2 } });
      text(x + 15, y, s, { align: "left", font: `7px ${F}`, fill: "#222" });
    };
    const mppMarks = (ax: any, pts: Pt[], wFrom: number[], vy: number[]) => {
      const gp = px(ax, pts[0]);
      const lp = px(ax, pts[1]);
      seg(wFrom[0], wFrom[1], gp[0] - 3, gp[1], { dash: [3, 2], color: "#222" });
      arrow(gp[0], gp[1] + 3, gp[0], vy[0], { dash: [2, 2], color: "#333", size: 4 });
      arrow(lp[0], lp[1] + 3, lp[0], vy[1], { dash: [2, 2], color: "#333", size: 4 });
    };
    const [i1, i2, i3] = insetAx;
    lab(162, 262, "(Global MPP)", true);
    lab(150, 274, "(136.07 W)");
    lab(242, 271, "(Local MPP)", true);
    lab(241, 281, "(110.03 W)");
    lab(200, 300, "(53.7 V)");
    lab(245, 312, "(75.3 V)");
    legend(103, 287, "Pattern B", COL.green);
    mppMarks(i1, mppB, [179, 274], [292, 305]);

    lab(380, 266, "(Global MPP)", true);
    lab(372, 277, "(114.5 W)");
    lab(409, 297, "(32.7 V)");
    lab(478, 286, "(Local MPP)", true);
    lab(480, 297, "(55.01 W)");
    lab(479, 327, "(77.2 V)");
    legend(380, 330, "Pattern C", COL.hc);
    mppMarks(i2, mppC, [399, 277], [291, 320]);

    lab(667, 261, "(Global MPP)", true);
    lab(656, 273, "(176.5 W)");
    lab(686, 297, "(50.9 V)");
    lab(730, 280, "(Local MPP)", true);
    lab(732, 291, "(111.3 W)");
    lab(732, 322, "(75.7 V)");
    legend(603, 290, "Pattern A", "#0000ff");
    mppMarks(i3, mppA, [685, 272], [291, 315]);

    // ---- GWO
    text(262, 412, "136 W");
    text(450, 410, "Trapped in local MPP");
    text(543, 438, "96.56 W");
    text(800, 399, "176.4 W");
    text(464, 531, "Oscillation during steady state", { font: `bold 12px ${F}` });
    box([187, 573, 64, 37], boxTexts.gwo[0], [187, 573], aGD, gwoDots[0], { dash: [3, 2] });
    box([626, 562, 60, 42], boxTexts.gwo[1], [679, 562], aGD, gwoDots[1], { dash: [3, 2] });
    big(834, 598, "(GWO)");

    // ---- BOA
    text(278, 683, "135.1 W");
    text(537, 695, "112.6 W");
    text(808, 667, "176.4 W");
    box([181, 840, 65, 40], boxTexts.boa[0], [184, 840], aBD, boaDots[0], { color: "#555" });
    box([489, 840, 63, 40], boxTexts.boa[1], [490, 840], aBD, boaDots[1], { color: "#555" });
    box([682, 837, 64, 43], boxTexts.boa[2], [683, 837], aBD, boaDots[2], { color: "#555" });
    big(834, 859, "(BOA)");

    // ---- PSO
    text(270, 949, "136.1 W");
    text(549, 957, "114 W");
    text(805, 940, "176.5 W");
    box([181, 1100, 62, 33], boxTexts.pso[0], [181, 1101], aPD, psoDots[0], { dash: [3, 2] });
    box([476, 1100, 54, 37], boxTexts.pso[1], [476, 1100], aPD, psoDots[1], { dash: [3, 2] });
    box([676, 1095, 60, 35], boxTexts.pso[2], [689, 1095], aPD, psoDots[2], { dash: [3, 2] });
    big(836, 1118, "(PSO)");

    // ---- GOA
    text(270, 1206, "136.2 W");
    text(536, 1225, "113.9 W");
    text(802, 1192, "176.5 W");
    box([149, 1363, 62, 39], boxTexts.goa[0], [143, 1363], aOD, goaDots[0], { color: "#666" });
    box([415, 1363, 66, 39], boxTexts.goa[1], [411, 1363], aOD, goaDots[1], { color: "#666" });
    box([682, 1363, 62, 39], boxTexts.goa[2], [679, 1363], aOD, goaDots[2], { color: "#666" });
    big(836, 1391, "(GOA)");

    // ---- SSA
    text(268, 1475, "136.3 W");
    text(538, 1484, "114.3 W");
    text(795, 1453, "176.9 W");
    box([112, 1616, 62, 38], boxTexts.ssa[0], [112, 1617], aSD, ssaDots[0], { dash: [2, 2] });
    box([390, 1607, 55, 40], boxTexts.ssa[1], [390, 1609], aSD, ssaDots[1], { dash: [2, 2] });
    box([649, 1614, 62, 38], boxTexts.ssa[2], [650, 1616], aSD, ssaDots[2], { dash: [2, 2] });
    big(836, 1645, "(SSA)");

    text(449, 1685, "time (s)", { font: `14px ${F}` });

    chart.setOption({ graphic: { elements: g } });
    return () => chart.dispose();
  }, []);
  return <div ref={ref} style={{ position: "absolute", left: 0, top: 0, width: 848, height: 1696, background: "#fff" }} />;
}
